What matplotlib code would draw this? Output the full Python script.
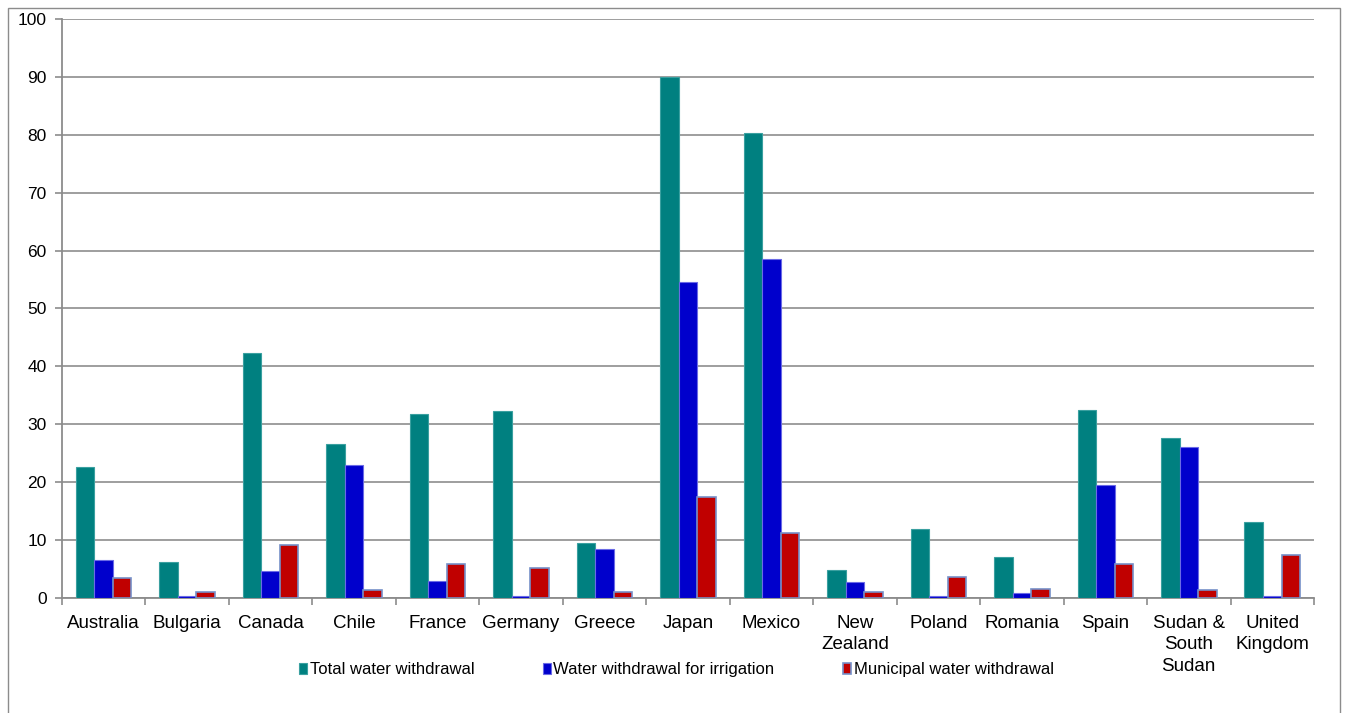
import numpy as np
import matplotlib
matplotlib.use("Agg")
import matplotlib.pyplot as plt
from matplotlib.patches import Rectangle

countries = ["Australia", "Bulgaria", "Canada", "Chile", "France", "Germany",
             "Greece", "Japan", "Mexico", "New\nZealand", "Poland", "Romania",
             "Spain", "Sudan &\nSouth\nSudan", "United\nKingdom"]
total = [22.7, 6.2, 42.3, 26.6, 31.8, 32.3, 9.5, 90.0, 80.3, 4.8, 11.9, 7.0,
         32.5, 27.6, 13.1]
irrigation = [6.5, 0.3, 4.7, 22.9, 3.0, 0.3, 8.4, 54.6, 58.5, 2.8, 0.3, 0.8,
              19.5, 26.1, 0.3]
municipal = [3.4, 1.0, 9.1, 1.3, 5.9, 5.2, 1.0, 17.4, 11.2, 1.0, 3.7, 1.5,
             5.9, 1.3, 7.4]

plt.rcParams['font.family'] = ['Liberation Sans', 'DejaVu Sans']

fig = plt.figure(figsize=(13.47, 7.13), dpi=100)
ax = fig.add_axes([0.046, 0.1613, 0.9295, 0.8121])

# thin frame around the whole chart
fig.patches.append(Rectangle((8 / 1347, -0.05), 1332 / 1347, 1 - 8 / 713 + 0.05,
                             transform=fig.transFigure, fill=False,
                             edgecolor='#8c8c8c', linewidth=1.0))

x = np.arange(len(countries))
w = 0.222
ax.bar(x - w, total, w, color='#008080', edgecolor='#3aa0a0', linewidth=0.8,
       label='Total water withdrawal', zorder=3)
ax.bar(x, irrigation, w, color='#0000cc', edgecolor='#6a6ae6', linewidth=0.8,
       label='Water withdrawal for irrigation', zorder=3)
ax.bar(x + w, municipal, w, color='#c00000', edgecolor='#7590c8', linewidth=1.2,
       label='Municipal water withdrawal', zorder=3)

ax.set_xlim(-0.5, len(countries) - 0.5)
ax.set_ylim(0, 100)
ax.set_yticks(range(0, 101, 10))
ax.yaxis.grid(True, color='#969696', linewidth=1.3, zorder=0)
ax.set_axisbelow(True)

ax.set_xticks(x)
ax.set_xticklabels(countries, fontsize=13.5, linespacing=1.36)
ax.set_xticks(np.arange(-0.5, len(countries), 1), minor=True)
ax.tick_params(axis='x', which='major', length=0, pad=12)
ax.tick_params(axis='x', which='minor', length=5, color='#8c8c8c', width=1.2,
               direction='out')
ax.tick_params(axis='y', length=5, color='#8c8c8c', width=1.2, labelsize=12.5,
               pad=6)

for side in ['top', 'right']:
    ax.spines[side].set_visible(False)
for side in ['left', 'bottom']:
    ax.spines[side].set_color('#8c8c8c')
    ax.spines[side].set_linewidth(1.3)

fig.legend(loc='center', bbox_to_anchor=(0.502, 0.0605), ncol=3, frameon=False,
           fontsize=12, handlelength=0.5, handleheight=0.65, handletextpad=0.15,
           columnspacing=4.1)

fig.savefig("out.png", dpi=100)
